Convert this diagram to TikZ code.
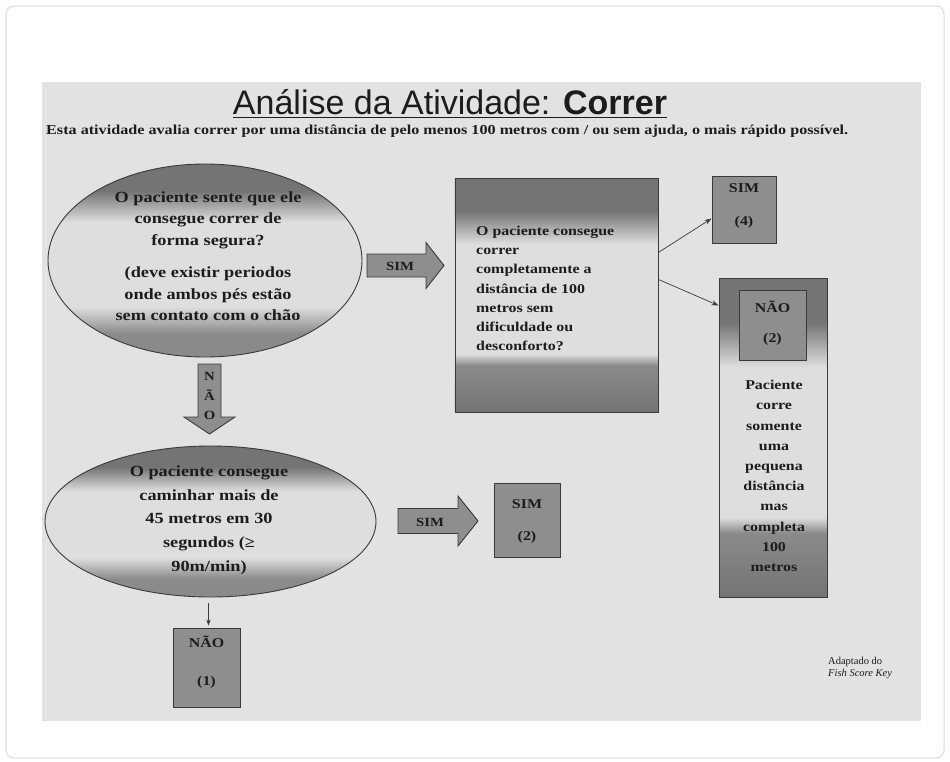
\documentclass[tikz,border=0pt]{standalone}
\usepackage{fontspec}
\usepackage{graphicx}
\setmainfont{Liberation Serif}
\newfontfamily\wideserif[FakeStretch=1.18]{Liberation Serif}
\newfontfamily\titlesans{Liberation Sans}
\usetikzlibrary{shapes.geometric,arrows.meta}

\definecolor{pagebg}{HTML}{E2E2E5}
\definecolor{framegray}{HTML}{DADADA}
\definecolor{ink}{HTML}{1C1C1C}
\definecolor{edgegray}{HTML}{3A3A3A}
\definecolor{boxgray}{HTML}{8E8E8E}
\definecolor{shdark}{HTML}{747474}
\definecolor{shmid}{HTML}{8A8A8A}
\definecolor{shlight}{HTML}{DEDEDE}

\pgfdeclareverticalshading{ellshade}{100bp}{color(0bp)=(shmid); color(25bp)=(shmid); color(31bp)=(shmid); color(38bp)=(shlight); color(60bp)=(shlight); color(68bp)=(shdark); color(100bp)=(shdark)}
\pgfdeclareverticalshading{boxshade}{100bp}{color(0bp)=(shdark); color(25bp)=(shdark); color(35bp)=(shmid); color(37.5bp)=(shlight); color(61bp)=(shlight); color(68bp)=(shdark); color(100bp)=(shdark)}

\tikzset{
  bodytxt/.style={text=ink, inner sep=0pt, font=\wideserif\bfseries},
  graybox/.style={draw=edgegray, fill=boxgray, line width=0.9pt, inner sep=0pt},
  shadebox/.style={draw=edgegray, shading=boxshade, line width=0.9pt, inner sep=0pt},
  shadeell/.style={ellipse, draw=edgegray, shading=ellshade, line width=0.9pt, inner sep=0pt},
  blockarr/.style={fill=boxgray, draw=edgegray, line width=0.9pt, line join=miter},
  thinarr/.style={draw=edgegray, line width=0.7pt, -{Stealth[length=7pt,width=5pt]}},
}

\begin{document}
\begin{tikzpicture}[x=1pt,y=-1pt]
\useasboundingbox (0,0) rectangle (950,761);
\fill[white] (0,0) rectangle (950,761);
\draw[framegray, rounded corners=8pt, line width=1pt] (6,6) rectangle (944,758);
\fill[pagebg] (42,82) rectangle (921,721);

% title
\node[anchor=base, inner sep=0pt, text=ink] (title) at (450,114)
  {\resizebox{434pt}{!}{\titlesans Análise da Atividade: \bfseries Correr}};
\draw[ink, line width=1pt] ([yshift=-3pt]title.base west) -- ([yshift=-3pt]title.base east);
\node[anchor=base west, inner sep=0pt, text=ink] (sub) at (46,134)
  {\resizebox{802pt}{!}{\wideserif\bfseries\fontsize{13}{15}\selectfont Esta atividade avalia correr por uma distância de pelo menos 100 metros com / ou sem ajuda, o mais rápido possível.}};

% ellipse 1
\node[shadeell, minimum width=314pt, minimum height=193pt] (e1) at (205,260.5) {};
\node[bodytxt, align=center, font=\wideserif\bfseries\fontsize{15.5}{21.5}\selectfont] (e1t) at (208,256)
  {O paciente sente que ele\\consegue correr de\\forma segura?\\[11pt](deve existir periodos\\onde ambos pés estão\\sem contato com o chão};

% SIM arrow 1
\coordinate (a1) at (367,265.5);
\draw[blockarr, shift={(a1)}] (0,-11.5) -- (59,-11.5) -- (59,-23) -- (77,0) -- (59,23) -- (59,11.5) -- (0,11.5) -- cycle;
\node[bodytxt, font=\wideserif\bfseries\fontsize{12.5}{14}\selectfont] (a1t) at (400,266) {SIM};

% box 1
\node[shadebox, minimum width=203pt, minimum height=234pt] (b1) at (454.5,178) [anchor=north west] {};
\node[bodytxt, align=left, anchor=west, font=\wideserif\bfseries\fontsize{13.5}{19.2}\selectfont] (b1t) at (476,288.5)
  {O paciente consegue\\correr\\completamente a\\distância de 100\\metros sem\\dificuldade ou\\desconforto?};

% SIM (4)
\node[graybox, minimum width=64pt, minimum height=67pt] (s4) at (744,209.5) {};
\node[bodytxt, align=center, font=\wideserif\bfseries\fontsize{13.5}{33}\selectfont] (s4t) at (744,206) {SIM\\(4)};

% NAO tall box
\node[shadebox, minimum width=108pt, minimum height=319pt] (n2) at (773,437.5) {};
\node[graybox, minimum width=67pt, minimum height=70pt] (n2in) at (772.5,325) {};
\node[bodytxt, align=center, font=\wideserif\bfseries\fontsize{13.5}{30}\selectfont] (n2t) at (772.5,323) {NÃO\\(2)};
\node[bodytxt, align=center, font=\wideserif\bfseries\fontsize{13.5}{20.2}\selectfont] (n2d) at (774,476)
  {Paciente\\corre\\somente\\uma\\pequena\\distância\\mas\\completa\\100\\metros};

% thin arrows
\draw[thinarr] ([yshift=43pt]b1.east) -- ([yshift=-9pt]s4.west);
\draw[thinarr] ([yshift=16pt]b1.east) -- ([yshift=132pt]n2.west);

% NAO arrow
\coordinate (a2) at (209.5,364);
\draw[blockarr, shift={(a2)}] (-11.5,0) -- (11.5,0) -- (11.5,53) -- (25.5,53) -- (0,70) -- (-25.5,53) -- (-11.5,53) -- cycle;
\node[bodytxt, align=center, font=\wideserif\bfseries\fontsize{12.5}{19.5}\selectfont] (a2t) at (209.5,396) {N\\Ã\\O};

% ellipse 2
\node[shadeell, minimum width=331pt, minimum height=151pt] (e2) at (210.5,521.5) {};
\node[bodytxt, align=center, font=\wideserif\bfseries\fontsize{15.5}{23.7}\selectfont] (e2t) at (209,520)
  {O paciente consegue\\caminhar mais de\\45 metros em 30\\segundos (≥\\90m/min)};

% SIM arrow 2
\coordinate (a3) at (398,521);
\draw[blockarr, shift={(a3)}] (0,-12.5) -- (60,-12.5) -- (60,-25) -- (80,0) -- (60,25) -- (60,12.5) -- (0,12.5) -- cycle;
\node[bodytxt, font=\wideserif\bfseries\fontsize{12.5}{14}\selectfont] (a3t) at (430,522) {SIM};

% SIM (2)
\node[graybox, minimum width=66pt, minimum height=74pt] (s2) at (527,520) {};
\node[bodytxt, align=center, font=\wideserif\bfseries\fontsize{13.5}{32}\selectfont] (s2t) at (527,521) {SIM\\(2)};

% NAO (1)
\node[graybox, minimum width=67pt, minimum height=79pt] (n1) at (206.5,667.5) {};
\node[bodytxt, align=center, font=\wideserif\bfseries\fontsize{13.5}{38}\selectfont] (n1t) at (206.5,662) {NÃO\\(1)};
\draw[edgegray, line width=0.7pt, -{Stealth[length=6pt,width=4.5pt]}] ([shift={(-2pt,-6pt)}]e2.south) -- ([shift={(2pt,2pt)}]n1.north);

% credit
\node[anchor=base west, inner sep=0pt, text=ink, font=\fontsize{10.5}{12}\selectfont, align=left] (cred) at (828,676)
  {Adaptado do\\\itshape Fish Score Key};
\end{tikzpicture}
\end{document}
